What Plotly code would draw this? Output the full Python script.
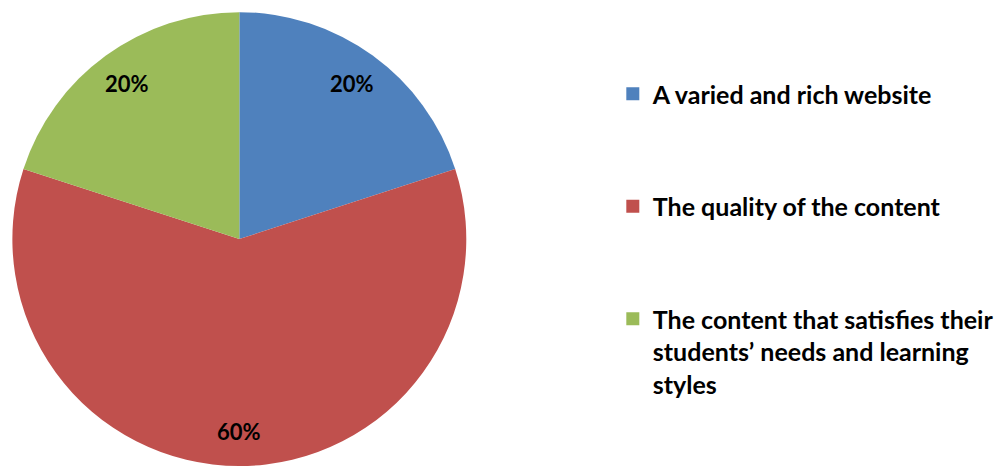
import math
import plotly.graph_objects as go

categories = ["A varied and rich website",
              "The quality of the content",
              "The content that satisfies their students’ needs and learning styles"]
legend_labels = ["A varied and rich website",
                 "The quality of the content",
                 "The content that satisfies their<br>students’ needs and learning<br>styles"]
values = [20, 60, 20]
colors = ["#4F81BD", "#C0504D", "#9BBB59"]

FONT = "Lato"
W, H = 999, 467
dom_x = [0.0125, 0.471]
dom_y = [0.0, 0.976]

fig = go.Figure()
fig.add_trace(go.Pie(
    labels=categories, values=values, sort=False, direction="clockwise",
    rotation=0, marker=dict(colors=colors, line=dict(width=0)),
    textinfo="none", hoverinfo="label+percent", showlegend=False,
    domain=dict(x=dom_x, y=dom_y),
))

# percentage labels placed along each slice bisector
total = sum(values)
cx = (dom_x[0] + dom_x[1]) / 2
cy = (dom_y[0] + dom_y[1]) / 2
r_px = min((dom_x[1] - dom_x[0]) * W, (dom_y[1] - dom_y[0]) * H) / 2
cum = 0
for v in values:
    mid = (cum + v / 2) / total * 2 * math.pi
    cum += v
    rr = 0.845 * r_px
    ax = cx + rr * math.sin(mid) / W
    ay = cy + rr * math.cos(mid) / H
    fig.add_annotation(x=ax, y=ay, xref="paper", yref="paper",
                       xanchor="center", yanchor="middle",
                       text=f"<b>{round(v / total * 100)}%</b>", showarrow=False,
                       font=dict(family=FONT, size=22, color="#000000"))

# legend entries
for i, (lab, col) in enumerate(zip(legend_labels, colors)):
    fig.add_trace(go.Scatter(
        x=[None], y=[None], mode="markers", name=f"<b>{lab}</b>",
        marker=dict(symbol="square", size=13, color=col),
        legendgroup=str(i), showlegend=True, hoverinfo="skip"))

fig.update_layout(
    width=W, height=H, margin=dict(l=0, r=0, t=0, b=0),
    paper_bgcolor="white", plot_bgcolor="white",
    xaxis=dict(visible=False), yaxis=dict(visible=False),
    legend=dict(x=0.619, y=1 - 71 / H, xanchor="left", yanchor="top",
                traceorder="grouped", tracegroupgap=77, valign="top",
                itemwidth=30,
                font=dict(family=FONT, size=25, color="#000000"),
                bgcolor="rgba(0,0,0,0)"),
)

fig.write_html("out.html", config={"displayModeBar": False},
               post_script="document.body.style.margin='0';")
